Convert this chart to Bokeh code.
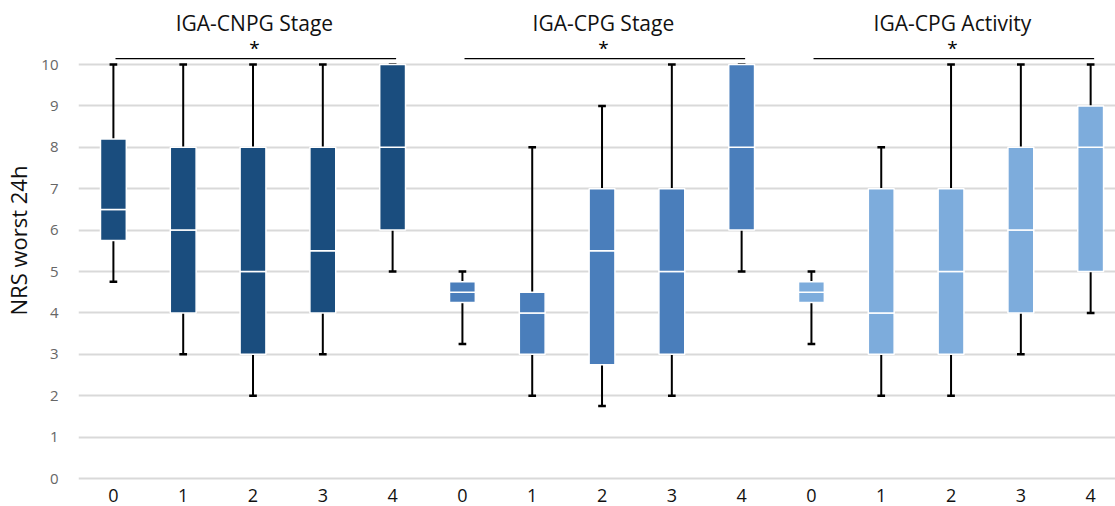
from bokeh.plotting import figure
from bokeh.models import FixedTicker, Range1d
from bokeh.core.properties import value
from bokeh.embed import file_html
from bokeh.resources import INLINE

# ---- data ----
groups = ["IGA-CNPG Stage", "IGA-CPG Stage", "IGA-CPG Activity"]
categories = ["0", "1", "2", "3", "4"]
colors = ["#1A4D7E", "#4A7EBB", "#7DACDC"]

low = [
    [4.75, 3, 2, 3, 5],
    [3.25, 2, 1.75, 2, 5],
    [3.25, 2, 2, 3, 4],
]
q1 = [
    [5.75, 4, 3, 4, 6],
    [4.25, 3, 2.75, 3, 6],
    [4.25, 3, 3, 4, 5],
]
median = [
    [6.5, 6, 5, 5.5, 8],
    [4.5, 4, 5.5, 5, 8],
    [4.5, 4, 5, 6, 8],
]
q3 = [
    [8.2, 8, 8, 8, 10],
    [4.75, 4.5, 7, 7, 10],
    [4.75, 7, 7, 8, 9],
]
high = [
    [10, 10, 10, 10, 10],
    [5, 8, 9, 10, 10],
    [5, 8, 10, 10, 10],
]
y_ticks = list(range(0, 11))
sig_label = "*"
y_label = "NRS worst 24h"

FONT = "Open Sans"

p = figure(width=1115, height=506, output_backend="svg", toolbar_location=None,
           x_range=Range1d(-0.5, 14.356), y_range=Range1d(-0.048, 11.546),
           min_border_left=71, min_border_right=0, min_border_top=0, min_border_bottom=26)
p.outline_line_color = None
p.background_fill_color = "white"

n = len(categories)
xs_all, labels_all = [], []
for g in range(len(groups)):
    xs = [g * n + i for i in range(n)]
    xs_all += xs
    labels_all += categories
    c = colors[g]
    # whiskers
    p.segment(x0=xs, x1=xs, y0=q3[g], y1=high[g], line_color="black", line_width=2)
    p.segment(x0=xs, x1=xs, y0=q1[g], y1=low[g], line_color="black", line_width=2)
    p.segment(x0=[x - 0.055 for x in xs], x1=[x + 0.055 for x in xs], y0=high[g], y1=high[g],
              line_color="black", line_width=2.5)
    p.segment(x0=[x - 0.055 for x in xs], x1=[x + 0.055 for x in xs], y0=low[g], y1=low[g],
              line_color="black", line_width=2.5)
    # boxes split at median
    p.vbar(x=xs, width=0.37, bottom=q1[g], top=median[g], fill_color=c, line_color="white", line_width=1.5)
    p.vbar(x=xs, width=0.37, bottom=median[g], top=q3[g], fill_color=c, line_color="white", line_width=1.5)
    # significance bar
    p.segment(x0=[g * n + 0.03], x1=[g * n + 4.05], y0=[10.14], y1=[10.14], line_color="black", line_width=1.3)
    p.text(x=[g * n + 2.02], y=[10.4], text=[sig_label], text_align="center", text_baseline="middle",
           text_font=value(FONT), text_font_size="19px", text_color="black")
    # group title
    p.text(x=[g * n + 2.02], y=[11.01], text=[groups[g]], text_align="center", text_baseline="middle",
           text_font=value(FONT), text_font_size="21px", text_color="#111111")

p.xaxis.ticker = FixedTicker(ticks=xs_all)
p.xaxis.major_label_overrides = {x: l for x, l in zip(xs_all, labels_all)}
p.xaxis.axis_line_color = None
p.xaxis.major_tick_line_color = None
p.xaxis.minor_tick_line_color = None
p.xaxis.major_label_text_font = FONT
p.xaxis.major_label_text_font_size = "18px"
p.xaxis.major_label_text_color = "#111111"
p.xaxis.major_label_standoff = 2
p.xgrid.grid_line_color = None

p.yaxis.ticker = FixedTicker(ticks=y_ticks)
p.yaxis.axis_line_color = None
p.yaxis.major_tick_line_color = None
p.yaxis.minor_tick_line_color = None
p.yaxis.major_label_text_font = FONT
p.yaxis.major_label_text_font_size = "15px"
p.yaxis.major_label_text_color = "#666666"
p.yaxis.major_label_standoff = 14
p.yaxis.axis_label = y_label
p.yaxis.axis_label_text_font = FONT
p.yaxis.axis_label_text_font_size = "22px"
p.yaxis.axis_label_text_font_style = "normal"
p.yaxis.axis_label_text_color = "#111111"
p.yaxis.axis_label_standoff = 5
p.ygrid.grid_line_color = "#D9D9D9"
p.ygrid.grid_line_width = 2

open("out.html", "w").write(file_html(p, INLINE))
